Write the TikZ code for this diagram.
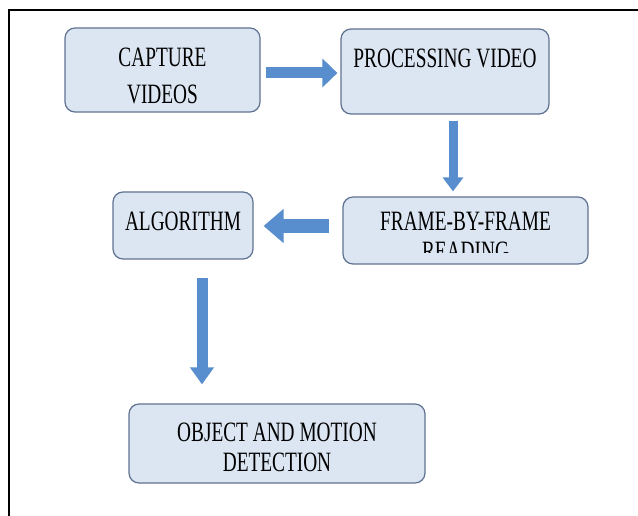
\documentclass[tikz,border=0pt]{standalone}
\usepackage{fontspec}
\newfontfamily\boxfont[FakeStretch=0.69]{Liberation Serif}
\usetikzlibrary{arrows.meta,positioning}
\definecolor{boxfill}{RGB}{220,230,242}
\definecolor{boxline}{RGB}{95,115,145}
\definecolor{arblue}{RGB}{88,142,206}

\begin{document}
\begin{tikzpicture}[x=1pt,y=-1pt]
   \tikzstyle{stage}=[draw=boxline,fill=boxfill,line width=1.2pt,rounded corners=10pt,align=center,inner sep=0pt,font=\boxfont\fontsize{28}{30}\selectfont]
   \tikzstyle{txt}=[inner sep=0pt,font=\boxfont\fontsize{28}{30}\selectfont]
   \tikzstyle{ar}=[arblue,line width=11pt,-{Triangle[length=15pt,width=28pt]}]

   \useasboundingbox [fill=white] (0,0) rectangle (638,516);
   \draw [line width=2.5pt] (9,516) -- (9,10) -- (638,10);

   \node (cap) [stage,minimum width=195pt,minimum height=84pt] at (162.5,70) {\rule{0pt}{29.5pt}CAPTURE\\[7pt]VIDEOS};
   \node (proc) [stage,minimum width=208pt,minimum height=85pt] at (445,71.5) {PROCESSING VIDEO\rule[-27pt]{0pt}{27pt}};
   \node (alg) [stage,minimum width=140pt,minimum height=67pt] at (183,225.5) {ALGORITHM\rule[-8pt]{0pt}{8pt}};
   \node (frm) [stage,minimum width=245pt,minimum height=67pt] at (465.5,230.5) {FRAME-BY-FRAME\rule[-18pt]{0pt}{18pt}};
   \node (obj) [stage,minimum width=296pt,minimum height=79pt] at (277,443.5) {\rule{0pt}{26.5pt}OBJECT AND MOTION\\DETECTION};
   \begin{scope}
      \clip (343,190) rectangle (588,253);
      \node (rdg) [txt] at (465.5,251.5) {READING};
   \end{scope}

   \draw [ar,shorten <=5pt,shorten >=3pt] ([yshift=-3pt]cap.east) -- ([yshift=-3pt]cap.east -| proc.west);
   \draw [ar,line width=9pt,-{Triangle[length=14pt,width=20pt]},shorten <=6pt,shorten >=5pt] ([xshift=8pt]proc.south) -- ([xshift=8pt]proc.south |- frm.north);
   \draw [ar,line width=14pt,-{Triangle[length=20pt,width=33pt]},shorten <=13pt,shorten >=10pt] ([yshift=4.5pt]frm.west) -- ([yshift=4.5pt]frm.west -| alg.east);
   \draw [ar,-{Triangle[length=17pt,width=23pt]},shorten <=18pt,shorten >=19pt] ([xshift=19pt]alg.south) -- ([xshift=19pt]alg.south |- obj.north);
\end{tikzpicture}
\end{document}
